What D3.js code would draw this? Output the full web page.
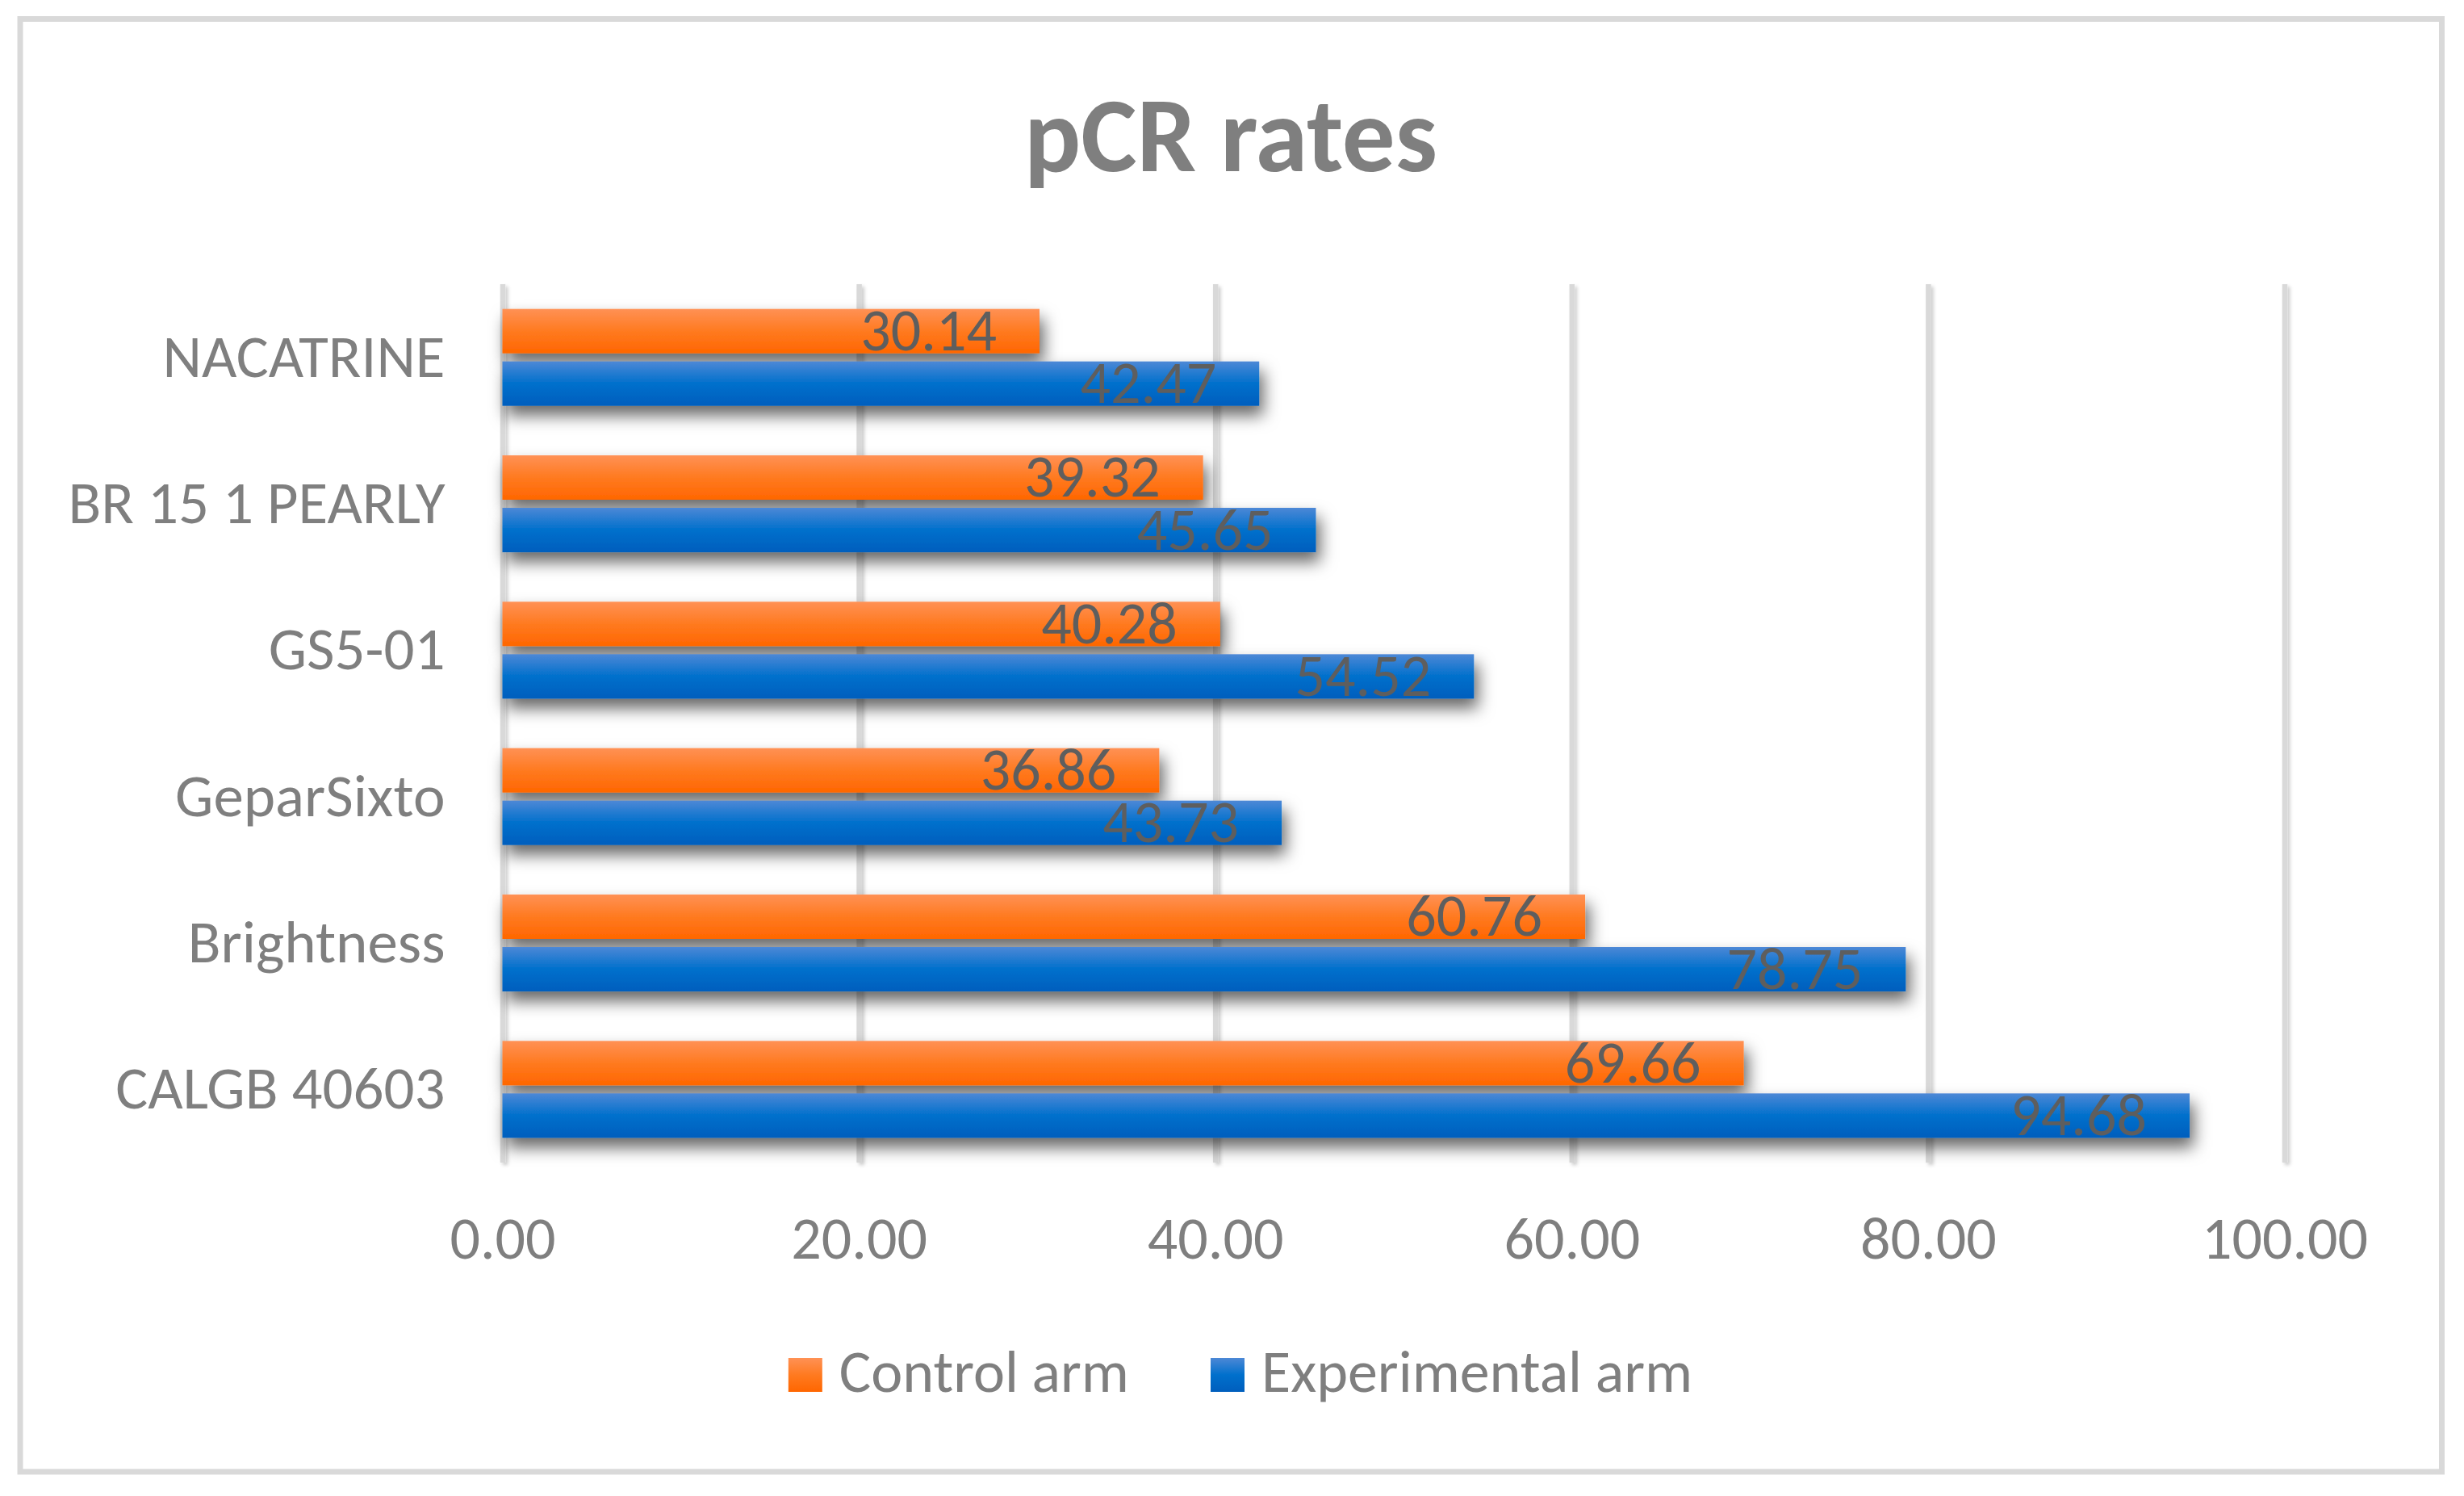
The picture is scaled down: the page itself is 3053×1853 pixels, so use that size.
<!DOCTYPE html>
<html>
<head>
<meta charset="utf-8">
<script src="https://cdn.jsdelivr.net/npm/d3@7"></script>
<style>
  body { margin: 0; background: #fff; }
  text { font-family: Carlito, Lato, sans-serif; }
</style>
</head>
<body>
<svg id="chart"></svg>
<script>
const categories = ["NACATRINE", "BR 15 1 PEARLY", "GS5-01", "GeparSixto", "Brightness", "CALGB 40603"];
const seriesNames = ["Control arm", "Experimental arm"];
const controlArm = [30.14, 39.32, 40.28, 36.86, 60.76, 69.66];
const experimentalArm = [42.47, 45.65, 54.52, 43.73, 78.75, 94.68];
const tickValues = [0, 20, 40, 60, 80, 100];

const W = 3053, H = 1853;
const margin = { top: 352, right: 222.5, bottom: 413, left: 622.5 };
const textGray = "#7f7f7f";

const svg = d3.select("#chart").attr("width", W).attr("height", H);

// gradients + shadows, Excel style
const defs = svg.append("defs");
const grads = {
  "Control arm": ["#ff9155", "#ff7a20", "#ff6600"],
  "Experimental arm": ["#4d88d6", "#0070cc", "#005ebd"],
};
seriesNames.forEach((s, i) => {
  const g = defs.append("linearGradient").attr("id", `grad${i}`)
    .attr("x1", 0).attr("y1", 0).attr("x2", 0).attr("y2", 1);
  g.append("stop").attr("offset", "0%").attr("stop-color", grads[s][0]);
  g.append("stop").attr("offset", "50%").attr("stop-color", grads[s][1]);
  g.append("stop").attr("offset", "100%").attr("stop-color", grads[s][2]);
});
defs.append("filter").attr("id", "barShadow")
  .attr("x", "-10%").attr("y", "-100%").attr("width", "125%").attr("height", "300%")
  .append("feDropShadow")
  .attr("dx", 5).attr("dy", 12).attr("stdDeviation", 10)
  .attr("flood-color", "#000").attr("flood-opacity", 0.6);
defs.append("filter").attr("id", "gridShadow")
  .attr("filterUnits", "userSpaceOnUse")
  .attr("x", -W).attr("y", -H).attr("width", 2 * W).attr("height", 2 * H)
  .append("feDropShadow")
  .attr("dx", 3).attr("dy", 3).attr("stdDeviation", 2)
  .attr("flood-color", "#000").attr("flood-opacity", 0.2);

// background + frame
svg.append("rect").attr("width", W).attr("height", H).attr("fill", "#fff");
svg.append("rect")
  .attr("x", 25).attr("y", 23.5).attr("width", 3000.5).attr("height", 1799.5)
  .attr("fill", "#fff").attr("stroke", "#d9d9d9").attr("stroke-width", 7);

// title
svg.append("text")
  .attr("x", 1525).attr("y", 212)
  .attr("text-anchor", "middle")
  .attr("font-size", 131).attr("font-weight", "bold")
  .attr("fill", textGray)
  .text("pCR rates");

const x = d3.scaleLinear().domain([0, 100]).range([margin.left, W - margin.right]);
const y = d3.scaleBand().domain(categories)
  .range([margin.top, H - margin.bottom])
  .paddingInner(0.338).paddingOuter(0.169);
const ySub = d3.scaleBand().domain(seriesNames)
  .range([0, y.bandwidth()]).paddingInner(0.154);

const plotBottom = H - margin.bottom;

// gridlines
const grid = svg.append("g")
  .attr("transform", `translate(0,${plotBottom})`)
  .attr("filter", "url(#gridShadow)")
  .call(d3.axisBottom(x).tickValues(tickValues).tickSize(-(plotBottom - margin.top)).tickFormat(""));
grid.select(".domain").remove();
grid.selectAll("line").attr("stroke", "#d9d9d9").attr("stroke-width", 6.5);

// bars
const rows = categories.map((c, i) => ({
  category: c,
  values: [
    { series: seriesNames[0], value: controlArm[i], idx: 0 },
    { series: seriesNames[1], value: experimentalArm[i], idx: 1 },
  ],
}));

const rowG = svg.append("g").selectAll("g")
  .data(rows).enter().append("g")
  .attr("transform", (d) => `translate(0,${y(d.category)})`);

rowG.selectAll("rect")
  .data((d) => d.values).enter().append("rect")
  .attr("x", x(0))
  .attr("y", (d) => ySub(d.series))
  .attr("width", (d) => x(d.value) - x(0))
  .attr("height", ySub.bandwidth())
  .attr("fill", (d) => `url(#grad${d.idx})`)
  .attr("filter", "url(#barShadow)");

// value labels, inside end
rowG.selectAll("text")
  .data((d) => d.values).enter().append("text")
  .attr("x", (d) => x(d.value) - 53)
  .attr("y", (d) => ySub(d.series) + ySub.bandwidth() / 2 + 24)
  .attr("text-anchor", "end")
  .attr("font-size", 74)
  .attr("fill", "#5e5e5e")
  .text((d) => d.value.toFixed(2));

// category axis
const yAxis = svg.append("g")
  .attr("transform", `translate(${margin.left},0)`)
  .call(d3.axisLeft(y).tickSize(0).tickPadding(71));
yAxis.select(".domain").remove();
yAxis.selectAll("text")
  .attr("dy", 24)
  .attr("font-size", 75)
  .attr("fill", textGray)
  .style("font-family", "Carlito, Lato, sans-serif");

// value axis labels
const xAxis = svg.append("g")
  .attr("transform", `translate(0,1559)`)
  .call(d3.axisBottom(x).tickValues(tickValues).tickSize(0).tickFormat(d3.format(".2f")));
xAxis.select(".domain").remove();
xAxis.selectAll("text")
  .attr("y", 0).attr("dy", 0)
  .attr("font-size", 74)
  .attr("fill", textGray)
  .style("font-family", "Carlito, Lato, sans-serif");

// legend
const legend = svg.append("g");
let lx = 0;
seriesNames.forEach((s, i) => {
  const item = legend.append("g").attr("transform", `translate(${lx},0)`);
  item.append("rect")
    .attr("x", 0).attr("y", 1682)
    .attr("width", 42).attr("height", 42)
    .attr("fill", `url(#grad${i})`);
  const t = item.append("text")
    .attr("x", 63).attr("y", 1724)
    .attr("font-size", 74)
    .attr("fill", textGray)
    .text(s);
  lx += 63 + t.node().getComputedTextLength() + 101;
});
const legendWidth = lx - 101;
legend.attr("transform", `translate(${1537 - legendWidth / 2},0)`);
</script>
</body>
</html>
